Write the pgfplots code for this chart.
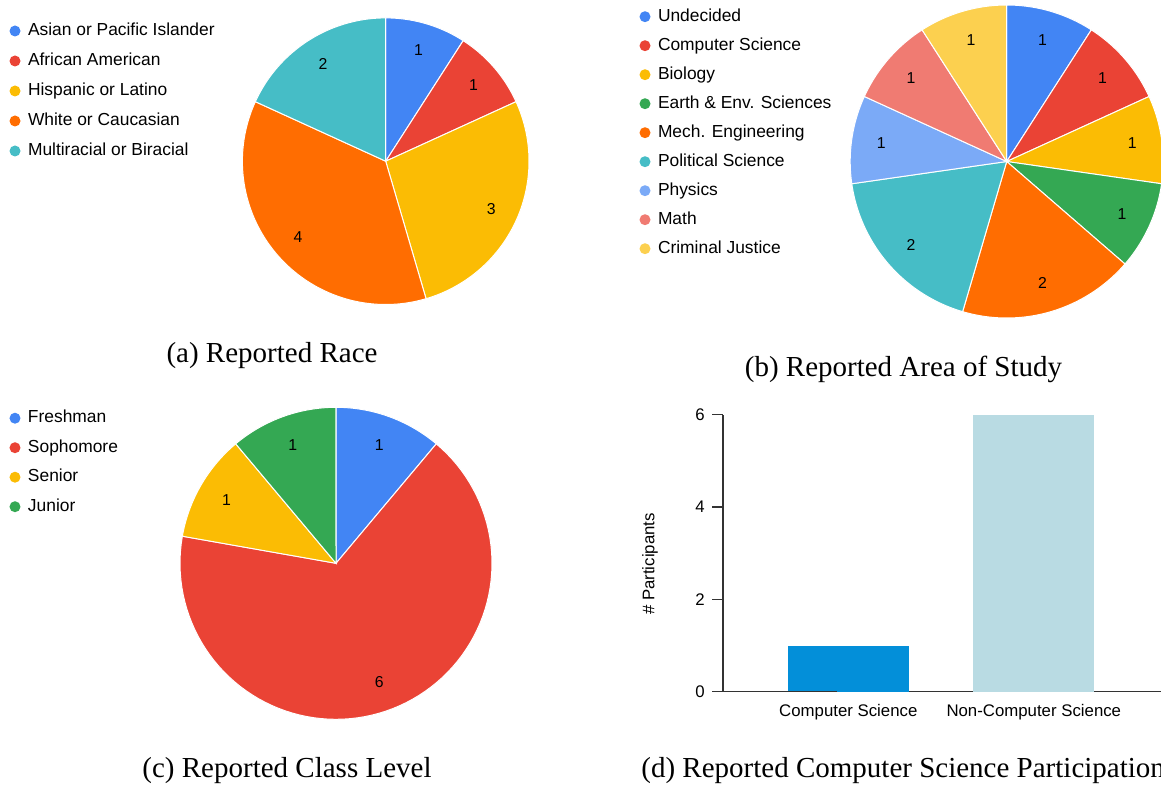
\documentclass[border=0pt]{standalone}
\usepackage{fontspec}
\setmainfont{Liberation Sans}
\newfontfamily\capfont{Liberation Serif}
\usepackage{pgfplots}
\pgfplotsset{compat=1.18}

\definecolor{gblue}{HTML}{4285F4}
\definecolor{gred}{HTML}{EA4335}
\definecolor{gyellow}{HTML}{FBBC04}
\definecolor{ggreen}{HTML}{34A853}
\definecolor{gorange}{HTML}{FF6D01}
\definecolor{gteal}{HTML}{46BDC6}
\definecolor{glblue}{HTML}{7BAAF7}
\definecolor{gsalmon}{HTML}{F07B72}
\definecolor{glyellow}{HTML}{FCD04F}
\definecolor{csblue}{HTML}{038FD9}
\definecolor{ncsblue}{HTML}{B9DBE3}
\definecolor{axiscol}{HTML}{333333}

\newcommand{\legfont}{\fontsize{8.7}{10}\selectfont}
\newcommand{\pielabfont}{\fontsize{7.9}{9}\selectfont}
\newcommand{\tickfont}{\fontsize{8.4}{10}\selectfont}
\newcommand{\captionfont}{\capfont\fontsize{14.5}{16}\selectfont}

% #1 colour, #2 cumulative count before, #3 count, #4 total, #5 legend text
\newcommand{\pieslice}[5]{%
  \addplot[fill=#1, draw=white, line width=0.5pt, samples=90, variable=\t,
    domain=90-360*(#2+#3)/#4:90-360*(#2)/#4]
    ({cos(\t)},{sin(\t)}) -- (axis cs:0,0) -- cycle;
  \addlegendentry{#5}
  \node[font=\pielabfont, text=black] at (axis cs:{0.81*cos(90-360*(#2+#3/2)/#4)},{0.81*sin(90-360*(#2+#3/2)/#4)}) {#3};
}

\pgfplotsset{
  pie/.style={
    hide axis, scale only axis, anchor=center,
    xmin=-1, xmax=1, ymin=-1, ymax=1, clip=false,
    legend image code/.code={\fill[##1, draw=none] (0cm,0cm) circle (2.75pt);},
    legend cell align=left,
    legend style={draw=none, fill=none, inner sep=0pt, outer sep=0pt,
      anchor=north west, font=\legfont, column sep=3.75pt,
      nodes={inner sep=0pt, text height=6.5pt, text depth=2pt}},
  }
}

\begin{document}
\begin{tikzpicture}
\path[use as bounding box] (0,0) rectangle (580.5pt,392pt);
\clip (0,0) rectangle (580.5pt,392pt);

% (a) Reported Race
\begin{axis}[pie, at={(192.85pt,311.4pt)}, width=143.3pt, height=143.3pt,
  legend style={at={(-0.8126,0.984)}, row sep=6.5pt}]
  \pieslice{gblue}{0}{1}{11}{Asian or Pacific Islander}
  \pieslice{gred}{1}{1}{11}{African American}
  \pieslice{gyellow}{2}{3}{11}{Hispanic or Latino}
  \pieslice{gorange}{5}{4}{11}{White or Caucasian}
  \pieslice{gteal}{9}{2}{11}{Multiracial or Biracial}
\end{axis}

% (b) Reported Area of Study
\begin{axis}[pie, at={(503.35pt,311.25pt)}, width=156.5pt, height=156.5pt,
  legend style={at={(-0.6732,0.9898)}, row sep=6pt}]
  \pieslice{gblue}{0}{1}{11}{Undecided}
  \pieslice{gred}{1}{1}{11}{Computer Science}
  \pieslice{gyellow}{2}{1}{11}{Biology}
  \pieslice{ggreen}{3}{1}{11}{Earth \& Env. Sciences}
  \pieslice{gorange}{4}{2}{11}{Mech. Engineering}
  \pieslice{gteal}{6}{2}{11}{Political Science}
  \pieslice{glblue}{8}{1}{11}{Physics}
  \pieslice{gsalmon}{9}{1}{11}{Math}
  \pieslice{glyellow}{10}{1}{11}{Criminal Justice}
\end{axis}

% (c) Reported Class Level
\begin{axis}[pie, at={(168pt,110.35pt)}, width=156pt, height=156pt,
  legend style={at={(-0.5465,0.9923)}, row sep=6.25pt}]
  \pieslice{gblue}{0}{1}{9}{Freshman}
  \pieslice{gred}{1}{6}{9}{Sophomore}
  \pieslice{gyellow}{7}{1}{9}{Senior}
  \pieslice{ggreen}{8}{1}{9}{Junior}
\end{axis}

% (d) Reported Computer Science Participation
\begin{axis}[at={(361.5pt,46.15pt)}, anchor=south west, scale only axis,
  width=219.4pt, height=138.5pt,
  xmin=-0.6755, xmax=1.69, ymin=0, ymax=6,
  axis lines*=left,
  axis line style={axiscol, line width=0.6pt},
  xtick={0,1}, xticklabels={Computer Science, Non-Computer Science},
  xtick style={draw=none}, xtick align=inside,
  ytick={0,2,4,6}, ytick align=outside, major tick length=5.5pt,
  ytick style={axiscol, line width=0.6pt},
  tick label style={font=\tickfont, text=black},
  /pgf/number format/assume math mode=true,
  yticklabel style={inner sep=0pt, xshift=-3.5pt},
  xticklabel style={inner sep=0pt, anchor=north, yshift=-6.15pt},
  ylabel={\# Participants},
  ylabel style={font=\tickfont, at={(axis description cs:-0.1664,0.461)}, anchor=center},
  clip=false]
  \addplot[ybar, bar width=60.35pt, bar shift=0pt, fill=csblue, draw=none] coordinates {(0,1)};
  \addplot[ybar, bar width=60.35pt, bar shift=0pt, fill=ncsblue, draw=none] coordinates {(1,6)};
  \draw[axiscol, line width=0.6pt] (axis cs:-0.6755,0) -- ++(-5.5pt,0);
\end{axis}

% captions
\node[font=\captionfont, anchor=base] at (136pt,211pt) {(a) Reported Race};
\node[font=\captionfont, anchor=base] at (451.75pt,204pt) {(b) Reported Area of Study};
\node[font=\captionfont, anchor=base] at (143.5pt,3.2pt) {(c) Reported Class Level};
\node[font=\captionfont, anchor=base west, inner sep=0pt] at (320.5pt,3.2pt) {(d) Reported Computer Science Participation};
\end{tikzpicture}
\end{document}
